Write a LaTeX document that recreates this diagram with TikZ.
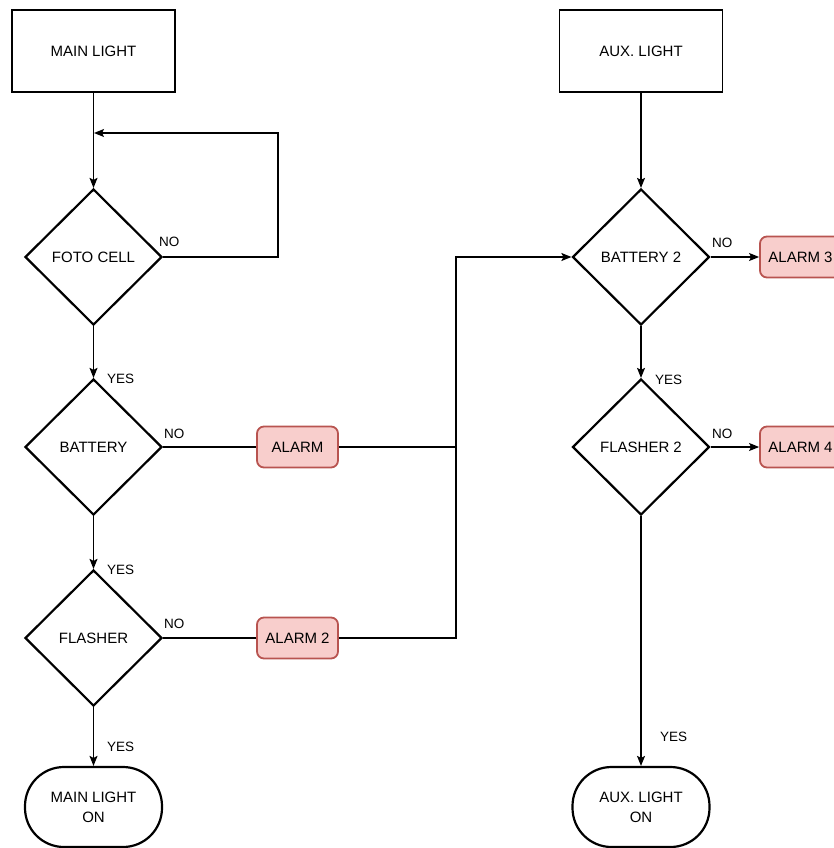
\documentclass[tikz,border=0pt]{standalone}
\usepackage{fontspec}
\setmainfont{Liberation Sans}
\usetikzlibrary{shapes.geometric,arrows.meta}
\definecolor{alarmfill}{HTML}{F8CECC}
\definecolor{alarmline}{HTML}{B85450}
\begin{document}
\begin{tikzpicture}[x=1pt,y=-1pt,
  every node/.style={font=\fontsize{15}{20}\selectfont, inner sep=0pt},
  startbox/.style={draw, line width=1.3pt, minimum width=163pt, minimum height=82pt},
  decision/.style={diamond, draw, line width=2.2pt, minimum width=137pt, minimum height=136pt, aspect=1},
  alarmbox/.style={draw=alarmline, fill=alarmfill, line width=1.8pt, rounded corners=7pt, minimum width=81pt, minimum height=41pt},
  terminal/.style={draw, line width=2.2pt, rounded corners=39pt, minimum width=137pt, minimum height=80pt, align=center},
  link/.style={line width=1.2pt},
  flow/.style={link, -{Stealth[length=10pt,width=8pt,inset=2pt]}},
  lbl/.style={anchor=west, font=\fontsize{13.5}{15}\selectfont}
]
\useasboundingbox (0,0) rectangle (834,848);
\clip (0,0) rectangle (834,848);

% left column
\node[startbox] (main) at (93.5,51) {MAIN LIGHT};
\node[decision] (foto) at (93.5,257) {FOTO CELL};
\node[decision] (bat) at (93.5,447) {BATTERY};
\node[decision] (fl) at (93.5,638) {FLASHER};
\node[terminal] (mainon) at (93.5,807) {MAIN LIGHT\\ON};

% alarms of the left column
\node[alarmbox] (al1) at (297.5,447) {ALARM};
\node[alarmbox] (al2) at (297.5,638) {ALARM 2};

% right column
\node[startbox] (aux) at (641,51) {AUX. LIGHT};
\node[decision] (bat2) at (641,257) {BATTERY 2};
\node[decision] (fl2) at (641,447) {FLASHER 2};
\node[terminal] (auxon) at (641,807) {AUX. LIGHT\\ON};
\node[alarmbox] (al3) at (800.5,257) {ALARM 3};
\node[alarmbox] (al4) at (800.5,447) {ALARM 4};

% helper points
\coordinate (loopR) at (278,257);
\coordinate (loopT) at (278,133);
\coordinate (loopJ) at (94,133);
\coordinate (busT) at (456,257);

% left column flow
\draw[flow] (main) -- (foto);
\draw[flow] (foto.east) -- (loopR) -- (loopT) -- (loopJ);
\draw[flow] (foto) -- (bat);
\draw[flow] (bat) -- (fl);
\draw[flow] (fl) -- (mainon);

% alarm routing
\draw[link] (bat.east) -- (al1.west);
\draw[link] (fl.east) -- (al2.west);
\draw[link] (al1.east) -- (al1.east -| busT);
\draw[flow] (al2.east) -| (busT) -- (bat2.west);

% right column flow
\draw[flow] (aux) -- (bat2);
\draw[flow] (bat2) -- (fl2);
\draw[flow] (fl2) -- (auxon);
\draw[flow] (bat2.east) -- (al3.west);
\draw[flow] (fl2.east) -- (al4.west);

% branch labels
\node[lbl] (noFoto) at (159,242) {NO};
\node[lbl] (yesBat) at (107,379) {YES};
\node[lbl] (noBat) at (164,434) {NO};
\node[lbl] (yesFl) at (107,570) {YES};
\node[lbl] (noFl) at (164,624) {NO};
\node[lbl] (yesOn) at (107,747) {YES};
\node[lbl] (noBat2) at (712,243) {NO};
\node[lbl] (yesFl2) at (655,380) {YES};
\node[lbl] (noFl2) at (712,434) {NO};
\node[lbl] (yesAux) at (660,737) {YES};
\end{tikzpicture}
\end{document}
